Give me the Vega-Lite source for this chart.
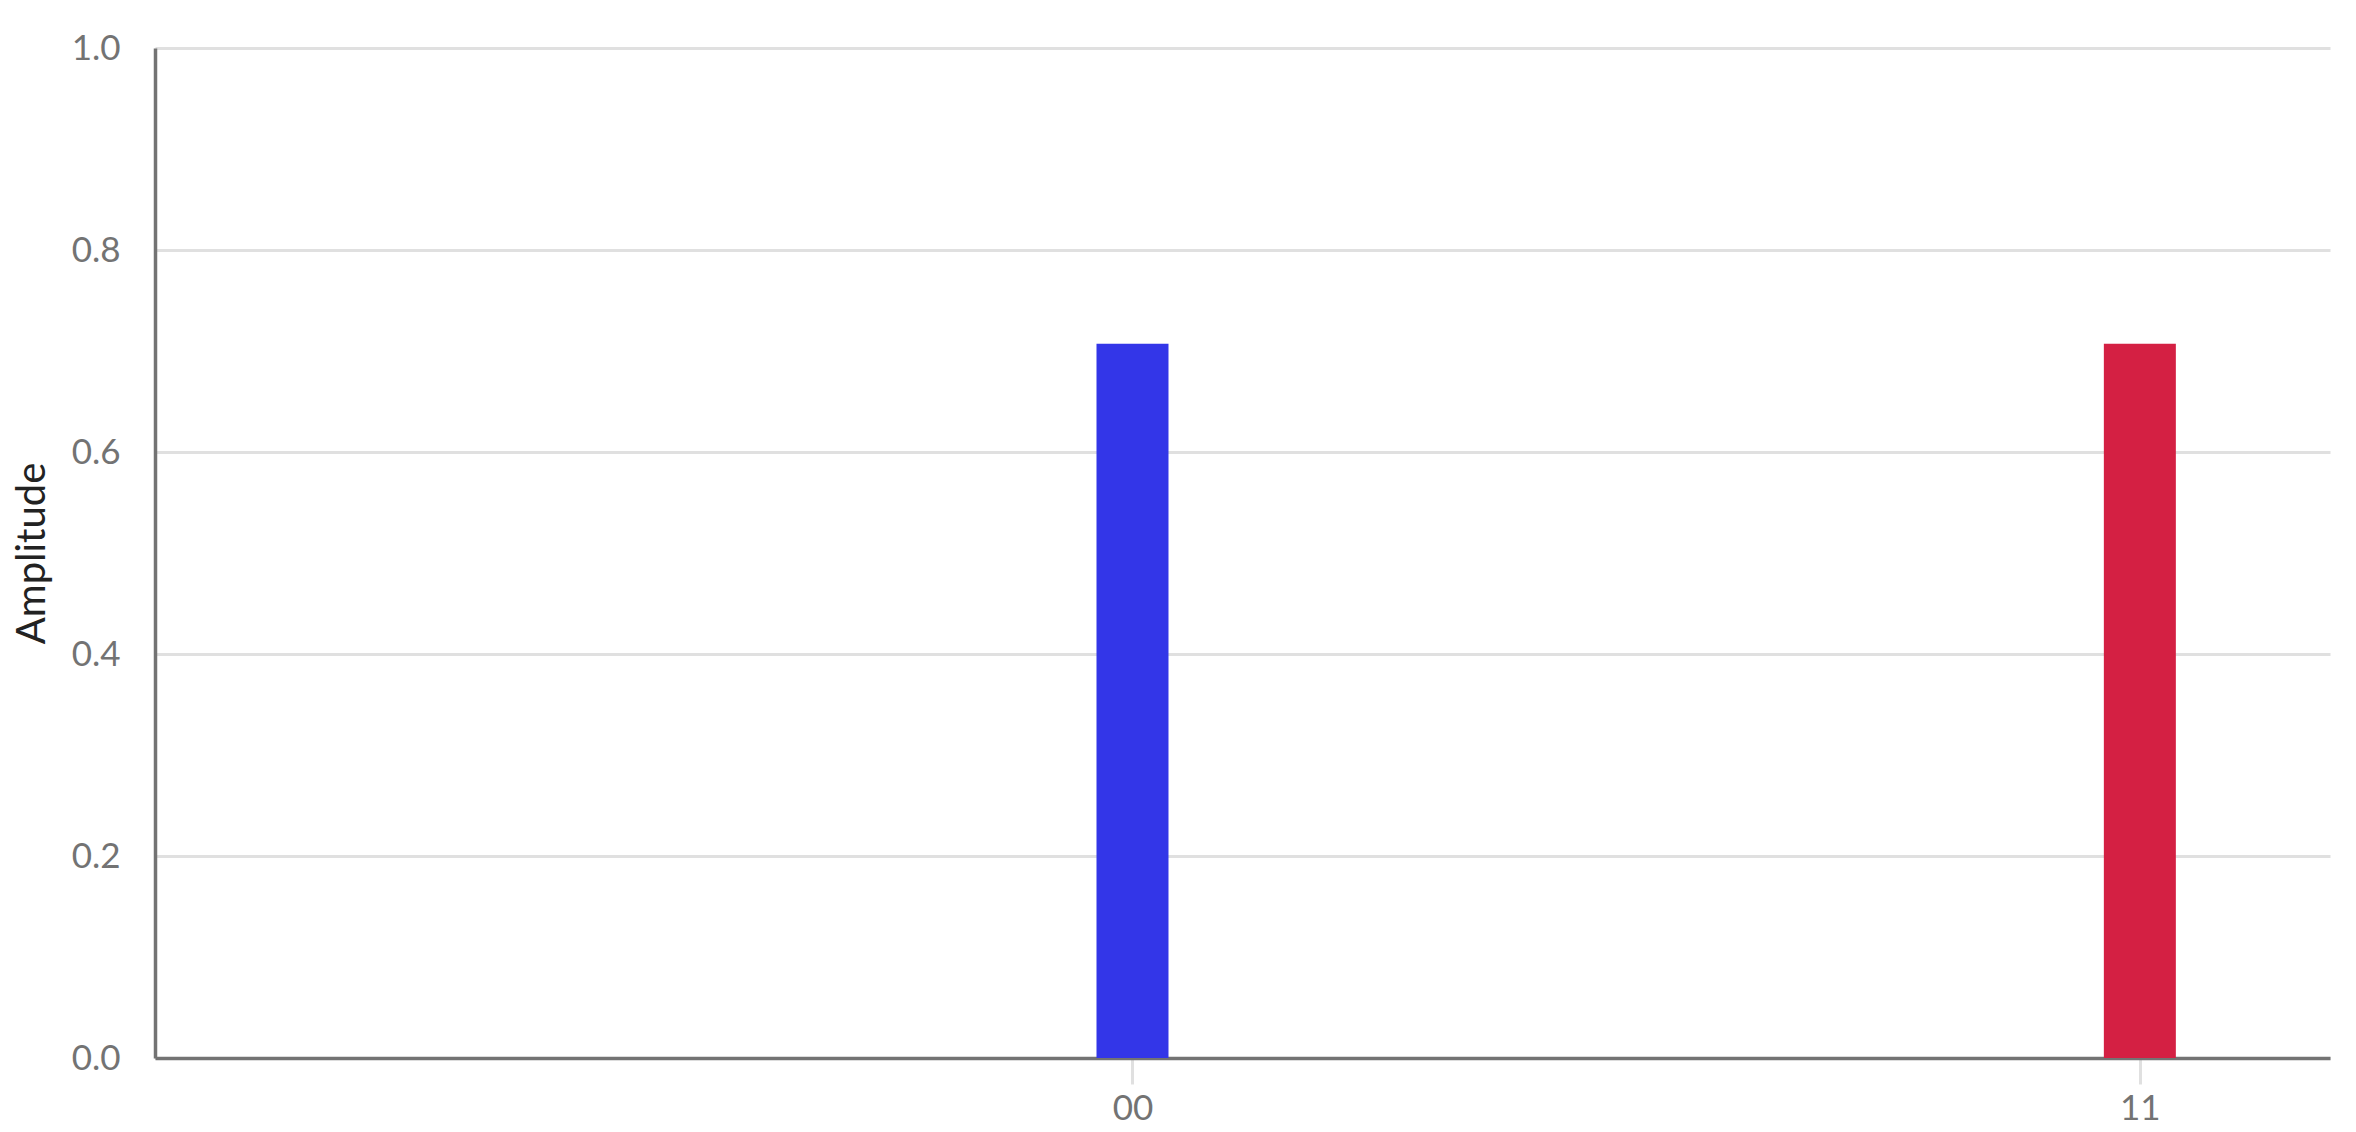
{
  "$schema": "https://vega.github.io/schema/vega-lite/v6.json",
  "width": 2175,
  "height": 1010,
  "autosize": "none",
  "padding": {"left": 155, "top": 48, "right": 26, "bottom": 74},
  "background": "white",
  "config": {
    "view": {"stroke": null},
    "font": "Lato"
  },
  "data": {
    "values": [
      {"state": "00", "pos": 0, "amplitude": 0.7071},
      {"state": "11", "pos": 1, "amplitude": 0.7071}
    ]
  },
  "mark": {"type": "bar", "width": 72},
  "encoding": {
    "x": {
      "field": "pos",
      "type": "quantitative",
      "scale": {"domain": [-0.9654, 1.1838], "nice": false, "zero": false},
      "axis": {
        "title": null,
        "values": [0, 1],
        "labelExpr": "datum.value == 0 ? '00' : '11'",
        "grid": false,
        "domainColor": "#737373",
        "domainWidth": 3.5,
        "tickColor": "#e0e0e0",
        "tickWidth": 3,
        "tickSize": 26,
        "labelColor": "#737373",
        "labelFont": "Lato",
        "labelFontSize": 35,
        "labelPadding": 7
      }
    },
    "y": {
      "field": "amplitude",
      "type": "quantitative",
      "scale": {"domain": [0, 1], "nice": false},
      "axis": {
        "title": "Amplitude",
        "values": [0, 0.2, 0.4, 0.6, 0.8, 1.0],
        "format": ".1f",
        "grid": true,
        "gridColor": "#e0e0e0",
        "gridWidth": 3,
        "ticks": false,
        "domainColor": "#737373",
        "domainWidth": 3.5,
        "labelColor": "#737373",
        "labelFont": "Lato",
        "labelFontSize": 35,
        "labelPadding": 35,
        "titleFont": "Lato",
        "titleFontSize": 40,
        "titleFontWeight": "normal",
        "titleColor": "#222222",
        "titleAngle": 270,
        "titleAlign": "center",
        "titleBaseline": "middle",
        "titleX": -123,
        "titleY": 505
      }
    },
    "color": {
      "field": "state",
      "type": "nominal",
      "scale": {"domain": ["00", "11"], "range": ["#3336e8", "#d42043"]},
      "legend": null
    }
  }
}
